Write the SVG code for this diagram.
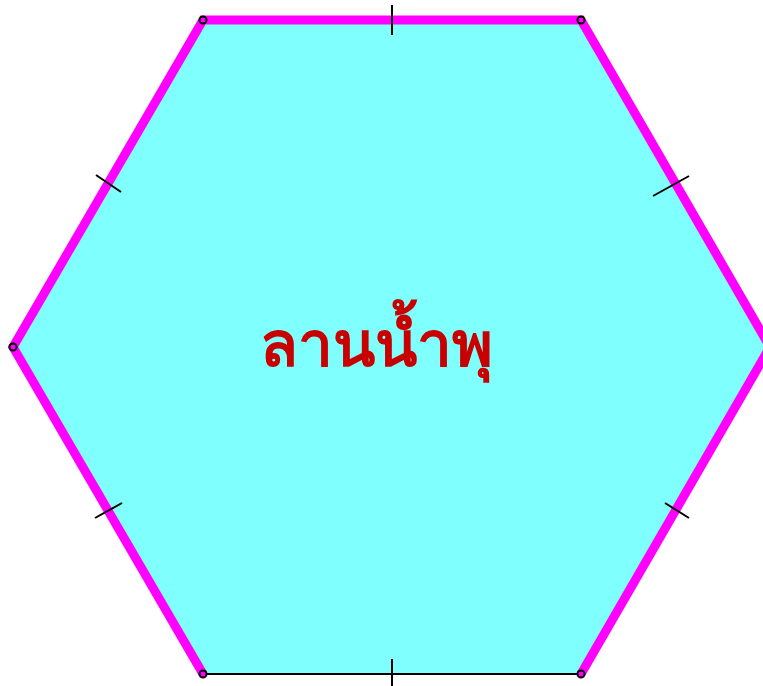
<svg xmlns="http://www.w3.org/2000/svg" width="763" height="686" viewBox="0 0 763 686">
<style>
.edge{stroke:#ff00ff;stroke-width:9;fill:none;stroke-linecap:butt}
.tick{stroke:#000;stroke-width:2;fill:none}
.vtx{fill:#ff00ff;stroke:#000;stroke-width:2}
.lbl{font-family:"Noto Sans","DejaVu Sans",sans-serif;font-size:62px;font-weight:bold;fill:#c80000;text-anchor:middle}
</style>
<g id="hexagon">
<polygon points="203,20 581,20 770,347 581,674 203,674 13,347" fill="#80ffff" stroke="none"/>
</g>
<g id="connectors">
<line x1="203" y1="674" x2="581" y2="674" stroke="#000" stroke-width="2"/>
<polyline class="edge" points="581,674 770,347 581,20 203,20 13,347 203,674"/>
<line class="tick" x1="392" y1="5" x2="392" y2="35"/>
<line class="tick" x1="392" y1="659" x2="392" y2="686"/>
<line class="tick" x1="96" y1="175" x2="121" y2="192"/>
<line class="tick" x1="95" y1="518" x2="122" y2="503"/>
<line class="tick" x1="653" y1="196" x2="689" y2="176"/>
<line class="tick" x1="665" y1="503" x2="689" y2="518"/>
</g>
<g id="vertices">
<circle class="vtx" cx="203" cy="20" r="3.5"/>
<circle class="vtx" cx="581" cy="20" r="3.5"/>
<circle class="vtx" cx="13" cy="347" r="3.5"/>
<circle class="vtx" cx="203" cy="674" r="3.5"/>
<circle class="vtx" cx="581" cy="674" r="3.5"/>
</g>
<g id="label">
<text class="lbl" x="376" y="366">ลานน้ำพุ</text>
</g>
</svg>
